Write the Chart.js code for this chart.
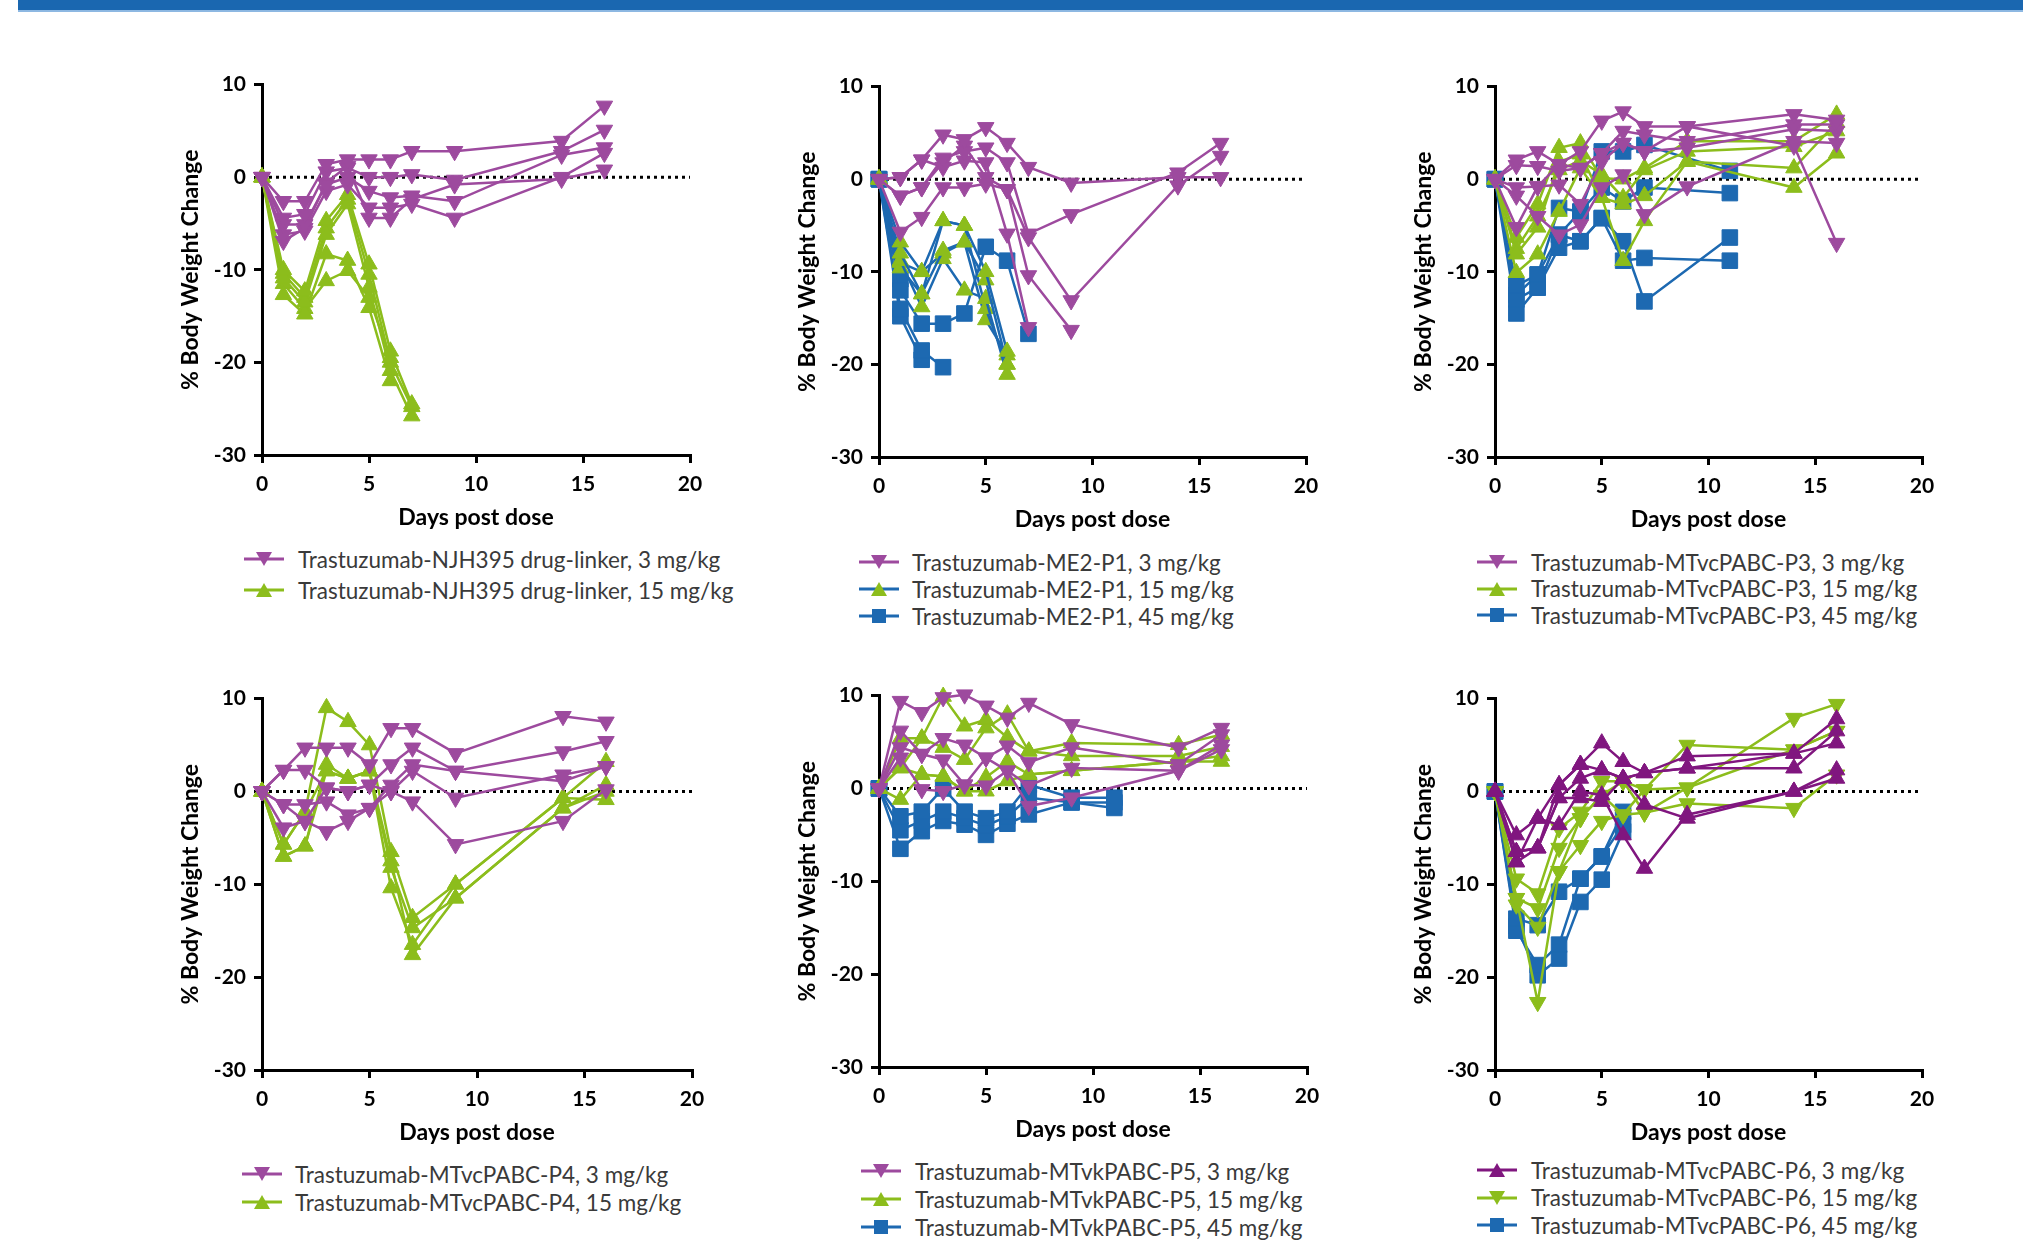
<!DOCTYPE html>
<html>
<head>
<meta charset="utf-8">
<script src="https://cdn.jsdelivr.net/npm/chart.js@4.4.0/dist/chart.umd.min.js"></script>
<style>
  body { margin: 0; width: 2023px; height: 1247px; background: #fff; position: relative; overflow: hidden; font-family: Lato, "Open Sans", sans-serif; }
  #bar { position: absolute; left: 18px; top: 0; width: 2005px; height: 10px; background: #1a67b0; border-bottom: 2px solid #8db8e2; }
  .panel { position: absolute; }
  .row { position: absolute; display: flex; align-items: center; white-space: nowrap; font-size: 22.5px; color: #3a3a3a; }
  .row svg { position: absolute; }
</style>
</head>
<body>
<div id="bar"></div>

<script>
// days post dose
const days = [0, 1, 2, 3, 4, 5, 6, 7, 9, 14, 16];
const daysP3High = [0, 1, 2, 3, 4, 5, 6, 7, 11];
const daysP5High = [0, 1, 2, 3, 4, 5, 6, 7, 9, 11];

// panel 1 - NJH395 drug-linker
const p1Low = [
  [0, -2.6, -2.6, 1.4, 1.9, 1.9, 1.9, 2.8, 2.8, 3.9, 7.7],
  [0, -4.4, -4.0, 0.6, 1.0, 0.0, 0.0, 0.3, -0.3, 2.8, 5.1],
  [0, -5.1, -5.1, -0.8, 0.0, -1.5, -2.2, -2.0, -2.6, 2.4, 3.2],
  [0, -6.2, -5.8, -1.5, -0.8, -3.3, -3.3, -2.9, -4.4, 0.0, 2.6],
  [0, -6.9, -5.5, -0.6, 1.2, -4.4, -4.4, -2.4, -0.8, -0.2, 0.8]
];
const p1High = [
  [0, -10.0, -12.3, -4.7, -1.9, -9.4, -18.8, -24.5],
  [0, -10.9, -13.5, -6.2, -2.9, -11.9, -20.9, -25.8],
  [0, -12.7, -14.8, -8.3, -9.0, -14.1, -22.0],
  [0, -11.5, -14.2, -11.2, -10.1, -13.0, -19.5],
  [0, -10.4, -13.0, -5.5, -2.4, -10.5, -20.0, -24.8]
];

// panel 2 - ME2-P1
const p2Low = [
  [0, 0.2, 2.1, 4.8, 4.3, 5.6, 3.9, 1.3, -0.4, 0.2, 0.2],
  [0, -1.8, -0.9, 2.3, 3.0, 3.4, 1.8, -5.9, -3.8, 0.7, 3.9],
  [0, -5.7, -4.1, -0.9, -0.9, -0.5, -1.1, -6.3, -13.1, -0.7, 2.5],
  [0, 0.2, 2.1, 1.3, 2.0, 1.8, -5.9, -16.0],
  [0, -1.8, -0.9, 1.8, 3.6, 0.2, -1.1, -10.4, -16.3]
];
const p2Mid = [
  [0, -6.8, -10.0, -4.5, -5.0, -10.0, -18.6],
  [0, -8.0, -12.4, -7.7, -6.8, -10.9, -20.0],
  [0, -8.8, -13.8, -8.6, -12.0, -12.9, -21.1],
  [0, -9.6, -12.4, -4.5, -5.0, -14.0, -20.0],
  [0, -9.0, -10.0, -8.0, -6.8, -15.2, -19.0]
];
const p2High = [
  [0, -12.0, -15.6, -15.6, -14.5, -7.3, -8.8, -16.7],
  [0, -14.0, -18.5, -20.3],
  [0, -14.8, -19.5],
  [0, -10.8]
];

// panel 3 - MTvcPABC-P3
const p3Low = [
  [0, 2.1, 3.0, 1.6, 3.0, 6.3, 7.3, 5.7, 5.7, 7.0, 6.4],
  [0, 1.5, 1.4, 0.9, 1.2, 2.8, 5.2, 4.8, 4.1, 5.9, 5.9],
  [0, -0.9, -0.8, -0.6, -2.7, 1.9, 3.9, 3.0, 3.4, 5.4, 5.2],
  [0, -1.8, -4.0, -6.0, -4.9, -0.9, 0.5, -3.8, -0.8, 4.1, 3.9],
  [0, -5.2, -0.8, 1.6, 1.2, 2.8, 3.9, 3.0, 5.7, 3.6, -6.9]
];
const p3Mid = [
  [0, -6.3, -2.7, 3.4, 3.9, 0.1, 0.0, 1.2, 4.1, 4.1, 7.0],
  [0, -8.1, -5.2, 1.9, 2.7, -2.0, -2.7, -1.8, 1.9, 1.2, 6.1],
  [0, -10.1, -8.1, -3.5, 1.2, -2.0, -8.8, -4.5, 1.9, -0.9, 2.8],
  [0, -7.5, -4.0, 1.0, 2.0, 0.5, -2.0, 1.0, 3.0, 3.5, 5.2]
];
const p3High = [
  [0, -11.5, -10.3, -3.1, -3.5, 3.0, 3.0, 3.7, 0.9],
  [0, -13.0, -11.7, -6.0, -3.5, -0.9, -2.4, -0.9, -1.5],
  [0, -14.5, -11.7, -7.4, -6.7, -4.2, -6.7, -13.2, -6.3],
  [0, -12.5, -10.3, -6.0, -6.7, -4.2, -8.8, -8.5, -8.8]
];

// panel 4 - MTvcPABC-P4
const p4Low = [
  [0, 2.3, 4.7, 4.7, 4.7, 2.9, 6.8, 6.8, 4.1, 8.1, 7.5],
  [0, 2.3, 2.3, 0.4, 0.0, 0.7, 2.9, 4.7, 2.2, 4.3, 5.4],
  [0, -1.4, -1.4, -1.1, -2.5, -1.8, 0.7, 2.9, 2.2, 1.1, 2.7],
  [0, -3.9, -3.2, -4.3, -3.2, -1.8, 0.0, 2.2, -0.7, 1.8, 2.7],
  [0, -1.4, -3.2, 0.4, 0.0, 0.7, 0.0, -1.1, -5.7, -3.2, 0.2]
];
const p4Mid = [
  [0, -5.7, -2.2, 9.0, 7.5, 5.0, -6.5, -13.6, -10.0, -0.7, 3.2],
  [0, -7.0, -5.9, 2.9, 1.4, 2.2, -8.2, -14.7, -11.5, -1.8, 0.7],
  [0, -5.7, -2.2, 2.2, 1.4, 2.2, -10.4, -16.5, -10.0, -0.7, -0.9],
  [0, -7.0, -5.9, 2.2, 1.4, 2.2, -7.5, -17.6, -11.5, -1.8, 0.0]
];

// panel 5 - MTvkPABC-P5
const p5Low = [
  [0, 9.4, 8.2, 9.8, 10.1, 8.9, 7.6, 9.2, 6.9, 4.4, 6.5],
  [0, 6.2, 3.7, 5.4, 4.7, 3.3, 4.6, 2.8, 4.4, 2.6, 5.8],
  [0, 4.4, 3.7, 3.1, 0.4, 3.3, 1.9, 0.3, 2.2, 1.9, 4.7],
  [0, 3.3, -0.1, -0.3, 0.4, 0.3, 1.9, -1.9, -1.0, 1.9, 4.2]
];
const p5Mid = [
  [0, 5.4, 5.4, 9.9, 6.7, 7.4, 5.5, 4.0, 4.9, 4.7, 5.8],
  [0, 2.2, 5.4, 4.4, 3.1, 6.5, 8.0, 4.0, 3.5, 3.5, 4.5],
  [0, 2.2, 1.5, 1.3, -0.3, 1.2, 2.9, 1.5, 1.9, 2.9, 2.9],
  [0, -1.2, 1.5, 1.3, -0.3, -0.3, 0.8, 1.5, 1.9, 2.9, 3.5]
];
const p5High = [
  [0, -3.0, -2.5, 0.0, -2.5, -3.2, -2.5, 0.4, -1.0, -1.0],
  [0, -4.5, -3.5, -2.5, -3.2, -4.0, -3.0, -1.0, -1.5, -2.1],
  [0, -6.5, -4.6, -3.5, -3.9, -5.0, -3.8, -2.8, -1.5, -1.5]
];

// panel 6 - MTvcPABC-P6
const p6Low = [
  [0, -4.7, -2.9, 0.7, 2.9, 5.2, 3.2, 2.0, 3.8, 4.1, 7.8],
  [0, -6.5, -6.1, -0.7, 1.4, 2.3, 1.4, 2.0, 2.5, 2.5, 6.5],
  [0, -7.6, -2.9, -3.6, 0.0, -0.4, -4.7, -8.3, -2.5, 0.0, 2.3],
  [0, -6.5, -6.1, -0.7, -0.7, -1.1, 1.4, -1.4, -2.9, 0.0, 1.4],
  [0, -7.6, -6.1, 0.7, 2.9, 2.3, 1.4, 2.0, 2.5, 4.1, 5.2]
];
const p6Mid = [
  [0, -9.4, -11.0, -4.0, -2.2, 1.1, 1.1, 0.2, 5.0, 4.5, 6.5],
  [0, -11.5, -12.6, -6.1, -2.9, -0.4, -2.5, 0.2, 0.4, 7.9, 9.4],
  [0, -12.2, -14.6, -8.6, -5.8, -3.2, -2.5, -2.3, -1.3, -1.8, 1.8],
  [0, -11.5, -22.7, -8.6, -2.9, -0.4, 1.1, -2.3, 0.4, 4.5, 6.5]
];
const p6High = [
  [0, -13.7, -14.4, -10.8, -9.4, -7.0, -2.2],
  [0, -15.0, -18.7, -16.5, -9.4, -7.0, -3.6],
  [0, -14.5, -19.8, -18.0, -11.9, -9.5, -4.3]
];

const legend1 = ["Trastuzumab-NJH395 drug-linker, 3 mg/kg", "Trastuzumab-NJH395 drug-linker, 15 mg/kg"];
const legend2 = ["Trastuzumab-ME2-P1, 3 mg/kg", "Trastuzumab-ME2-P1, 15 mg/kg", "Trastuzumab-ME2-P1, 45 mg/kg"];
const legend3 = ["Trastuzumab-MTvcPABC-P3, 3 mg/kg", "Trastuzumab-MTvcPABC-P3, 15 mg/kg", "Trastuzumab-MTvcPABC-P3, 45 mg/kg"];
const legend4 = ["Trastuzumab-MTvcPABC-P4, 3 mg/kg", "Trastuzumab-MTvcPABC-P4, 15 mg/kg"];
const legend5 = ["Trastuzumab-MTvkPABC-P5, 3 mg/kg", "Trastuzumab-MTvkPABC-P5, 15 mg/kg", "Trastuzumab-MTvkPABC-P5, 45 mg/kg"];
const legend6 = ["Trastuzumab-MTvcPABC-P6, 3 mg/kg", "Trastuzumab-MTvcPABC-P6, 15 mg/kg", "Trastuzumab-MTvcPABC-P6, 45 mg/kg"];

// colours
const magenta = "#9d4a9e";
const green = "#8cbd1c";
const blue = "#1d69b1";
const purple = "#80167f";

// marker kinds
const down = { shape: "triangle", rot: 180, r: 9.5 };
const up = { shape: "triangle", rot: 0, r: 9.5 };
const square = { shape: "rect", rot: 0, r: 11 };

// where each plot area sits (axis pixels) and its legend
const layout = [
  { left: 262, right: 690, top: 84, bottom: 455, iconX: 264, textX: 298, legY: 559, rowH: 31 },
  { left: 879, right: 1306, top: 86, bottom: 457, iconX: 879, textX: 912, legY: 562, rowH: 27 },
  { left: 1495, right: 1922, top: 86, bottom: 457, iconX: 1497, textX: 1531, legY: 562, rowH: 26.5 },
  { left: 262, right: 692, top: 698, bottom: 1070, iconX: 262, textX: 295, legY: 1174, rowH: 28 },
  { left: 879, right: 1307, top: 695, bottom: 1067, iconX: 881, textX: 915, legY: 1171, rowH: 28 },
  { left: 1495, right: 1922, top: 698, bottom: 1070, iconX: 1497, textX: 1531, legY: 1170, rowH: 27.5 }
];

const panels = [
  [
    { rows: p1Low, days: days, fill: magenta, line: magenta, mk: down, label: legend1[0] },
    { rows: p1High, days: days, fill: green, line: green, mk: up, label: legend1[1] }
  ],
  [
    { rows: p2Low, days: days, fill: magenta, line: magenta, mk: down, label: legend2[0] },
    { rows: p2Mid, days: days, fill: green, line: blue, mk: up, label: legend2[1] },
    { rows: p2High, days: days, fill: blue, line: blue, mk: square, label: legend2[2] }
  ],
  [
    { rows: p3Low, days: days, fill: magenta, line: magenta, mk: down, label: legend3[0] },
    { rows: p3Mid, days: days, fill: green, line: green, mk: up, label: legend3[1] },
    { rows: p3High, days: daysP3High, fill: blue, line: blue, mk: square, label: legend3[2] }
  ],
  [
    { rows: p4Low, days: days, fill: magenta, line: magenta, mk: down, label: legend4[0] },
    { rows: p4Mid, days: days, fill: green, line: green, mk: up, label: legend4[1] }
  ],
  [
    { rows: p5Low, days: days, fill: magenta, line: magenta, mk: down, label: legend5[0] },
    { rows: p5Mid, days: days, fill: green, line: green, mk: up, label: legend5[1] },
    { rows: p5High, days: daysP5High, fill: blue, line: blue, mk: square, label: legend5[2] }
  ],
  [
    { rows: p6Low, days: days, fill: purple, line: purple, mk: up, label: legend6[0] },
    { rows: p6Mid, days: days, fill: green, line: green, mk: down, label: legend6[1] },
    { rows: p6High, days: days, fill: blue, line: blue, mk: square, label: legend6[2] }
  ]
];

const tickFont = { family: "Lato", size: 21, weight: "bold" };
const titleFont = { family: "Lato", size: 23, weight: "bold" };

const makeSets = (groups) => {
  const sets = [];
  groups.forEach((g) => {
    g.rows.forEach((row) => {
      sets.push({
        data: row.map((v, i) => ({ x: g.days[i], y: v })),
        borderColor: g.line,
        borderWidth: 2.5,
        backgroundColor: g.fill,
        pointBackgroundColor: g.fill,
        pointBorderColor: g.fill,
        pointBorderWidth: 1,
        pointStyle: g.mk.shape,
        rotation: g.mk.rot,
        pointRadius: g.mk.r,
        clip: false,
      });
    });
  });
  // dotted zero line
  sets.push({
    data: [{ x: 0, y: 0 }, { x: 20, y: 0 }],
    borderColor: "#000",
    borderWidth: 3,
    borderDash: [3, 4],
    pointRadius: 0,
  });
  return sets;
};

const iconSvg = (g) => {
  const mk = g.mk;
  let shape = "";
  if (mk === square) {
    shape = `<rect x="13" y="3" width="14" height="14" fill="${g.fill}"/>`;
  } else if (mk.rot === 180) {
    shape = `<polygon points="12,3 28,3 20,17" fill="${g.fill}"/>`;
  } else {
    shape = `<polygon points="12,17 28,17 20,3" fill="${g.fill}"/>`;
  }
  return `<svg width="40" height="20" viewBox="0 0 40 20"><line x1="0" y1="10" x2="40" y2="10" stroke="${g.line}" stroke-width="3"/>${shape}</svg>`;
};

panels.forEach((groups, k) => {
  const box = layout[k];
  const padL = 100, padT = 20, padR = 30, padB = 80;
  const div = document.createElement("div");
  div.className = "panel";
  div.style.left = box.left - padL + "px";
  div.style.top = box.top - padT + "px";
  const canvas = document.createElement("canvas");
  canvas.width = box.right - box.left + padL + padR;
  canvas.height = box.bottom - box.top + padT + padB;
  div.appendChild(canvas);
  document.body.appendChild(div);

  new Chart(canvas, {
    type: "line",
    data: { datasets: makeSets(groups) },
    options: {
      responsive: false,
      animation: false,
      devicePixelRatio: 1,
      layout: { padding: { top: padT, right: padR, left: 0, bottom: 0 } },
      plugins: { legend: { display: false }, tooltip: { enabled: false } },
      scales: {
        x: {
          type: "linear",
          min: 0,
          max: 20,
          ticks: { stepSize: 5, font: tickFont, color: "#000", padding: 9 },
          grid: { drawOnChartArea: false, drawTicks: true, tickLength: 8, lineWidth: 3, color: "#000" },
          border: { display: true, color: "#000", width: 3 },
          title: { display: true, text: "Days post dose", font: titleFont, color: "#000", padding: { top: 0, bottom: 4 } },
          afterFit: (s) => { s.height = padB; },
        },
        y: {
          min: -30,
          max: 10,
          ticks: { stepSize: 10, font: tickFont, color: "#000", padding: 8 },
          grid: { drawOnChartArea: false, drawTicks: true, tickLength: 8, lineWidth: 3, color: "#000" },
          border: { display: true, color: "#000", width: 3 },
          title: { display: true, text: "% Body Weight Change", font: titleFont, color: "#000", padding: { top: 15, bottom: 0 } },
          afterFit: (s) => { s.width = padL; },
        },
      },
    },
  });

  // legend rows under the plot
  groups.forEach((g, i) => {
    const row = document.createElement("div");
    row.className = "row";
    row.style.left = box.iconX - 20 + "px";
    row.style.top = box.legY + i * box.rowH - box.rowH / 2 + "px";
    row.style.height = box.rowH + "px";
    row.innerHTML = iconSvg(g) + `<span style="position:absolute;left:${box.textX - box.iconX + 20}px">${g.label}</span>`;
    document.body.appendChild(row);
  });
});
</script>
</body>
</html>
